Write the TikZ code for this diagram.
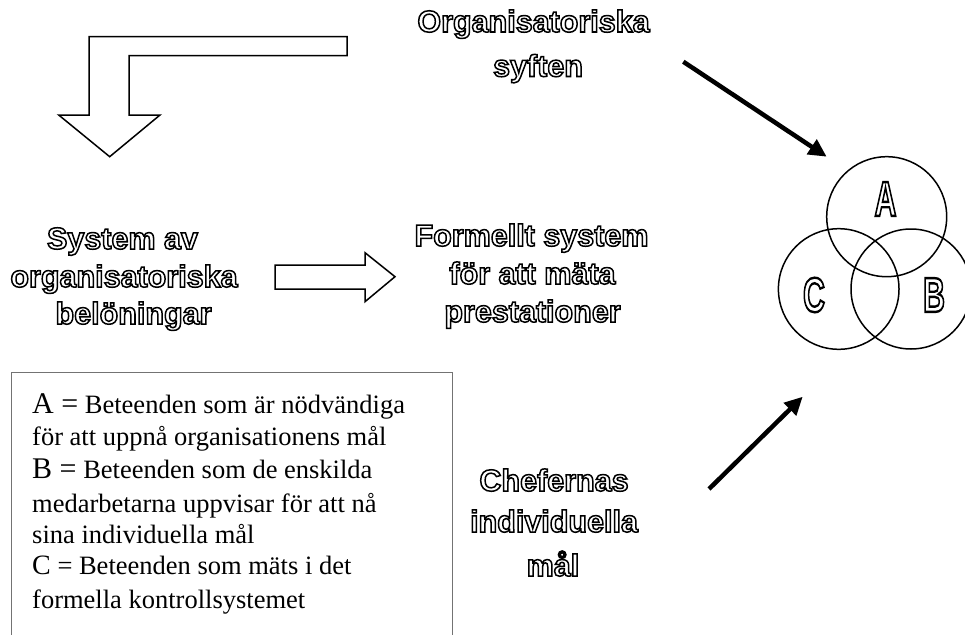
\documentclass[tikz,border=0pt]{standalone}
\usepackage{fontspec}
\setmainfont{Liberation Serif}
\newfontfamily\boldsans{Liberation Sans}
\usepackage{graphicx}
\usetikzlibrary{arrows.meta}
\newcommand\outl[1]{\textcolor{white}{\special{pdf:literal direct 2 Tr 1.5 w 0 G}#1\special{pdf:literal direct 0 Tr}}}
\newcommand\outlbig[1]{\textcolor{white}{\special{pdf:literal direct 2 Tr 2.4 w 0 G}#1\special{pdf:literal direct 0 Tr}}}
\newcommand\legbig[1]{{\fontsize{30}{30}\selectfont #1}}
\tikzset{
  otitle/.style={font=\boldsans\bfseries\fontsize{30.5}{36}\selectfont, anchor=base, inner sep=0pt},
  vennlbl/.style={font=\boldsans\bfseries\fontsize{49}{52}\selectfont, inner sep=0pt},
  legline/.style={font=\fontsize{26.5}{30}\selectfont, anchor=base west, inner sep=0pt},
  hollow/.style={draw=black, line width=1.5pt, fill=white, line join=miter},
  venn/.style={draw=black, line width=1.5pt},
  bigarrow/.style={line width=4.5pt, -{Triangle[length=18pt,width=17pt]}},
}
\begin{document}
\begin{tikzpicture}[x=1pt,y=-1pt]
\useasboundingbox (0,0) rectangle (965,634);
% bent hollow arrow
\draw[hollow] (89,36.7) -- (347,36.7) -- (347,55.7) -- (129,55.7) -- (129,115)
  -- (160,115) -- (109.7,156.7) -- (58.7,115) -- (89,115) -- cycle;
% hollow right arrow
\draw[hollow] (275,265) -- (365,265) -- (365,252.7) -- (395,276.7) -- (365,301.7)
  -- (365,289) -- (275,289) -- cycle;
% titles
\node[otitle] (os1) at (533.5,32) {\outl{Organisatoriska}};
\node[otitle] (os2) at (538,76.5) {\outl{syften}};
\node[otitle] (sy1) at (122.5,249) {\outl{System av}};
\node[otitle] (sy2) at (124,287) {\outl{organisatoriska}};
\node[otitle] (sy3) at (133.5,324) {\outl{belöningar}};
\node[otitle] (fs1) at (531.5,246) {\outl{Formellt system}};
\node[otitle] (fs2) at (532.5,284) {\outl{för att mäta}};
\node[otitle] (fs3) at (532.5,322) {\outl{prestationer}};
\node[otitle] (ch1) at (554,491) {\outl{Chefernas}};
\node[otitle] (ch2) at (554,532) {\outl{individuella}};
\node[otitle] (ch3) at (553,576) {\outl{mål}};
% venn
\draw[venn] (886.7,216.7) circle[radius=60];
\draw[venn] (838.7,289) circle[radius=60.3];
\draw[venn] (911,289) circle[radius=60];
\node[vennlbl] (la) at (885.5,199) {\scalebox{0.62}[1]{\outlbig{A}}};
\node[vennlbl] (lc) at (814,295) {\scalebox{0.62}[1]{\outlbig{C}}};
\node[vennlbl] (lb) at (934,295) {\scalebox{0.62}[1]{\outlbig{B}}};
% thick arrows
\coordinate (t1) at (683.3,61.7);
\coordinate (t2) at (826.7,156.7);
\coordinate (b1) at (709,489);
\coordinate (b2) at (802.7,396.7);
\draw[bigarrow] (t1) -- (t2);
\draw[bigarrow] (b1) -- (b2);
% legend box
\draw[draw=black!55, line width=1pt] (11.7,660) -- (11.7,372.7) -- (452,372.7) -- (452,660);
\node[legline] (l1) at (32,413) {\legbig{A =} Beteenden som är nödvändiga};
\node[legline] (l2) at (32,445) {för att uppnå organisationens mål};
\node[legline] (l3) at (32,478) {\legbig{B =} Beteenden som de enskilda};
\node[legline] (l4) at (32,512) {medarbetarna uppvisar för att nå};
\node[legline] (l5) at (32,543) {sina individuella mål};
\node[legline] (l6) at (32,574) {{\fontsize{28}{30}\selectfont C} = Beteenden som mäts i det};
\node[legline] (l7) at (32,608) {formella kontrollsystemet};
\end{tikzpicture}
\end{document}
